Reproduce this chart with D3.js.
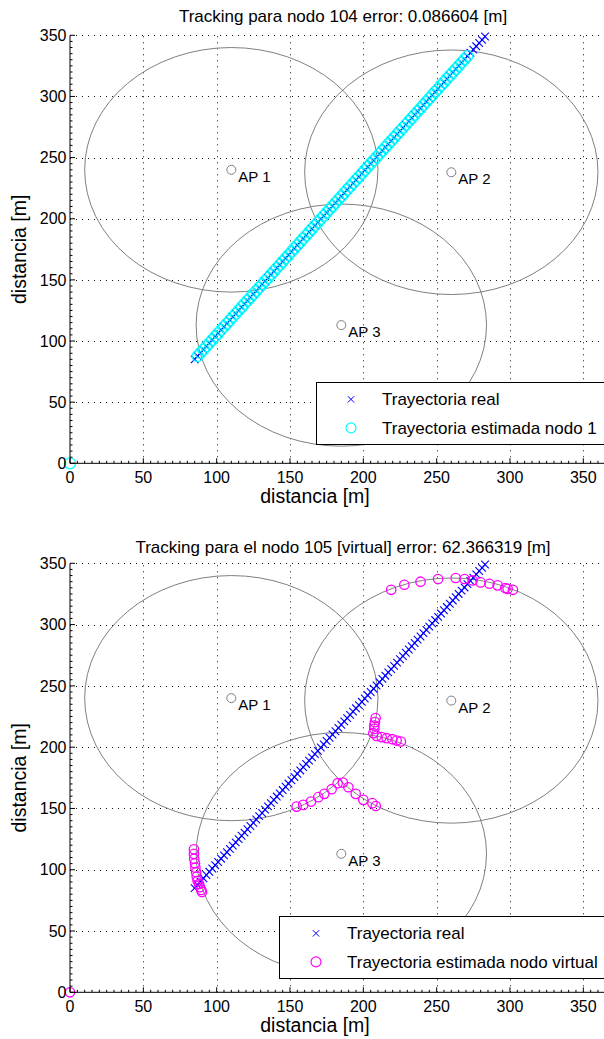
<!DOCTYPE html>
<html>
<head>
<meta charset="utf-8">
<script src="https://cdn.jsdelivr.net/npm/d3@7"></script>
<style>
  body { margin: 0; background: #fff; }
  text { font-family: "Liberation Sans", Arial, sans-serif; fill: #000; }
</style>
</head>
<body>
<svg id="fig"></svg>
<script>
const width = 604;
const height = 1039;

// ---- data ----
const tickVals = [0, 50, 100, 150, 200, 250, 300, 350];
const apNames = ["AP 1", "AP 2", "AP 3"];
const apX = [110, 260, 185];
const apY = [240, 238, 113];
const apR = [100, 100, 99];

// real trajectory (both plots)
const realX = [85,87,89,91,93,95,97,99,101,103,105,107,109,111,113,115,117,119,121,123,
  125,127,129,131,133,135,137,139,141,143,145,147,149,151,153,155,157,159,161,163,
  165,167,169,171,173,175,177,179,181,183,185,187,189,191,193,195,197,199,201,203,
  205,207,209,211,213,215,217,219,221,223,225,227,229,231,233,235,237,239,241,243,
  245,247,249,251,253,255,257,259,261,263,265,267,269,271,273,275,277,279,281,283];
const realY = [85,87.7,90.3,93,95.7,98.3,101,103.7,106.3,109,111.7,114.3,117,119.7,122.3,
  125,127.7,130.3,133,135.7,138.3,141,143.7,146.3,149,151.7,154.3,157,159.7,162.3,
  165,167.7,170.3,173,175.7,178.3,181,183.7,186.3,189,191.7,194.3,197,199.7,202.3,
  205,207.7,210.3,213,215.7,218.3,221,223.7,226.3,229,231.7,234.3,237,239.7,242.3,
  245,247.7,250.3,253,255.7,258.3,261,263.7,266.3,269,271.7,274.3,277,279.7,282.3,
  285,287.7,290.3,293,295.7,298.3,301,303.7,306.3,309,311.7,314.3,317,319.7,322.3,
  325,327.7,330.3,333,335.7,338.3,341,343.7,346.3,349];

// estimated trajectory node 104 (error 0.0866 m -> on top of the real one)
const est1X = [0].concat(realX.slice(1, 94));
const est1Y = [0].concat(realY.slice(1, 94));

// estimated trajectory virtual node 105
const virtX = [0, 84.5,84.5,84.7,85.2,85.5,86,86.4,87,88,88.6,89.5,90,
  154.5,159,164.3,169.3,173.4,178.4,182.5,186,189.8,194.8,200,206.2,208.5,
  208.4,207.9,207.5,207.5,206.8,209.1,212.5,215.9,219.8,222.7,225.6,
  219,228,239,251,263,269,274.5,280,286,291.6,296.8,298.4,302];
const virtY = [0, 116.7,112.9,109,105.3,101.7,98,94.4,91,88.4,85.7,83.5,81.9,
  151.5,152.9,155.6,159.2,161.9,165.7,170.6,171.1,167.3,161.9,157,154.3,152,
  223.7,220.4,217.6,214.9,211.4,209.2,208.2,207.3,206.5,205.4,204.6,
  328.4,332.5,335,337.2,338,337.2,336,334.4,333.3,332,329.8,329.2,328.4];

const svg = d3.select("#fig")
  .attr("width", width)
  .attr("height", height);

const x = d3.scaleLinear().domain([0, 365]).range([70, 605.3]);

function drawPanel(p) {
  const y = d3.scaleLinear().domain([0, 350]).range([p.y0, p.y1]);
  const g = svg.append("g");

  // dotted grid
  g.selectAll(".gx").data(tickVals.slice(1)).enter().append("line")
    .attr("x1", d => Math.round(x(d)) + 0.5).attr("x2", d => Math.round(x(d)) + 0.5)
    .attr("y1", y(0)).attr("y2", y(350))
    .attr("stroke", "#111").attr("stroke-dasharray", "1,5");
  g.selectAll(".gy").data(tickVals.slice(1)).enter().append("line")
    .attr("y1", d => Math.round(y(d)) + 0.5).attr("y2", d => Math.round(y(d)) + 0.5)
    .attr("x1", x(0)).attr("x2", width + 2)
    .attr("stroke", "#111").attr("stroke-dasharray", "1,5");

  // AP range circles (ellipses because of the axis aspect)
  const k = x(1) - x(0), ky = y(0) - y(1);
  g.selectAll(".ring").data(apNames).enter().append("ellipse")
    .attr("cx", (d, i) => x(apX[i])).attr("cy", (d, i) => y(apY[i]))
    .attr("rx", (d, i) => apR[i] * k).attr("ry", (d, i) => apR[i] * ky)
    .attr("fill", "none").attr("stroke", "#7f7f7f").attr("stroke-width", 1);

  g.selectAll(".ap").data(apNames).enter().append("circle")
    .attr("cx", (d, i) => x(apX[i])).attr("cy", (d, i) => y(apY[i]))
    .attr("r", 4.5).attr("fill", "none").attr("stroke", "#7f7f7f");
  g.selectAll(".apl").data(apNames).enter().append("text")
    .attr("x", (d, i) => x(apX[i]) + 7).attr("y", (d, i) => y(apY[i]) + 12)
    .attr("font-size", 15).text(d => d);

  // real trajectory (x markers)
  const s = 3.8;
  g.selectAll(".rx").data(realX).enter().append("path")
    .attr("d", (d, i) => {
      const cx = x(d), cy = y(realY[i]);
      return `M${cx - s},${cy - s}L${cx + s},${cy + s}M${cx - s},${cy + s}L${cx + s},${cy - s}`;
    })
    .attr("stroke", "#0000ff").attr("stroke-width", 1.1).attr("fill", "none");

  // estimated trajectory (o markers)
  g.selectAll(".est").data(p.estX).enter().append("circle")
    .attr("cx", d => x(d)).attr("cy", (d, i) => y(p.estY[i]))
    .attr("r", p.r).attr("fill", "none")
    .attr("stroke", p.color).attr("stroke-width", 1.3);

  // axes: left + bottom with inward ticks
  g.append("line").attr("x1", x(0)).attr("x2", width + 2)
    .attr("y1", y(0)).attr("y2", y(0)).attr("stroke", "#000");
  g.append("line").attr("x1", x(0)).attr("x2", x(0))
    .attr("y1", y(0)).attr("y2", y(350)).attr("stroke", "#000");

  const minor = d3.range(0, 366, 5);
  g.selectAll(".mx").data(minor).enter().append("line")
    .attr("x1", d => x(d)).attr("x2", d => x(d))
    .attr("y1", y(0)).attr("y2", d => y(0) - (d % 50 === 0 ? 5 : 2.5))
    .attr("stroke", "#000");
  g.selectAll(".my").data(minor.filter(d => d <= 350)).enter().append("line")
    .attr("y1", d => y(d)).attr("y2", d => y(d))
    .attr("x1", x(0)).attr("x2", d => x(0) + (d % 50 === 0 ? 5 : 2.5))
    .attr("stroke", "#000");

  g.selectAll(".xl").data(tickVals).enter().append("text")
    .attr("x", d => x(d)).attr("y", y(0) + 20)
    .attr("text-anchor", "middle").attr("font-size", 16).text(d => d);
  g.selectAll(".yl").data(tickVals).enter().append("text")
    .attr("x", x(0) - 3.5).attr("y", d => y(d)).attr("dy", "0.36em")
    .attr("text-anchor", "end").attr("font-size", 16).text(d => d);

  // titles and labels
  g.append("text").attr("x", 343).attr("y", p.titleY)
    .attr("text-anchor", "middle").attr("font-size", 17).text(p.title);
  g.append("text").attr("x", 315).attr("y", y(0) + 40)
    .attr("text-anchor", "middle").attr("font-size", 19.5).text("distancia [m]");
  g.append("text")
    .attr("transform", `translate(26,${(y(0) + y(350)) / 2}) rotate(-90)`)
    .attr("text-anchor", "middle").attr("font-size", 19.5).text("distancia [m]");

  // legend
  const L = p.legend;
  g.append("rect").attr("x", L.x + 0.5).attr("y", L.y + 0.5)
    .attr("width", 400).attr("height", L.h)
    .attr("fill", "#fff").attr("stroke", "#000");
  const mx = L.x + L.mOff, r1 = L.y + L.h * 0.28, r2 = L.y + L.h * 0.74;
  const ls = 3.2;
  g.append("path")
    .attr("d", `M${mx - ls},${r1 - ls}L${mx + ls},${r1 + ls}M${mx - ls},${r1 + ls}L${mx + ls},${r1 - ls}`)
    .attr("stroke", "#0000ff").attr("fill", "none");
  g.append("circle").attr("cx", mx).attr("cy", r2).attr("r", 5)
    .attr("fill", "none").attr("stroke", p.color).attr("stroke-width", 1.2);
  g.append("text").attr("x", L.x + L.tOff).attr("y", r1).attr("dy", "0.36em")
    .attr("font-size", 17).text("Trayectoria real");
  g.append("text").attr("x", L.x + L.tOff).attr("y", r2).attr("dy", "0.36em")
    .attr("font-size", 17).text(p.estLabel);
}

drawPanel({
  y0: 463.3, y1: 35.3, titleY: 22,
  title: "Tracking para nodo 104 error: 0.086604 [m]",
  estX: est1X, estY: est1Y, color: "#00ffff", r: 5.5,
  estLabel: "Trayectoria estimada nodo 1",
  legend: { x: 316, y: 382, h: 62, mOff: 35, tOff: 66 }
});

drawPanel({
  y0: 992.3, y1: 563.3, titleY: 553,
  title: "Tracking para el nodo 105 [virtual] error: 62.366319 [m]",
  estX: virtX, estY: virtY, color: "#ff00ff", r: 4.7,
  estLabel: "Trayectoria estimada nodo virtual",
  legend: { x: 279, y: 916, h: 62, mOff: 37, tOff: 68 }
});
</script>
</body>
</html>
